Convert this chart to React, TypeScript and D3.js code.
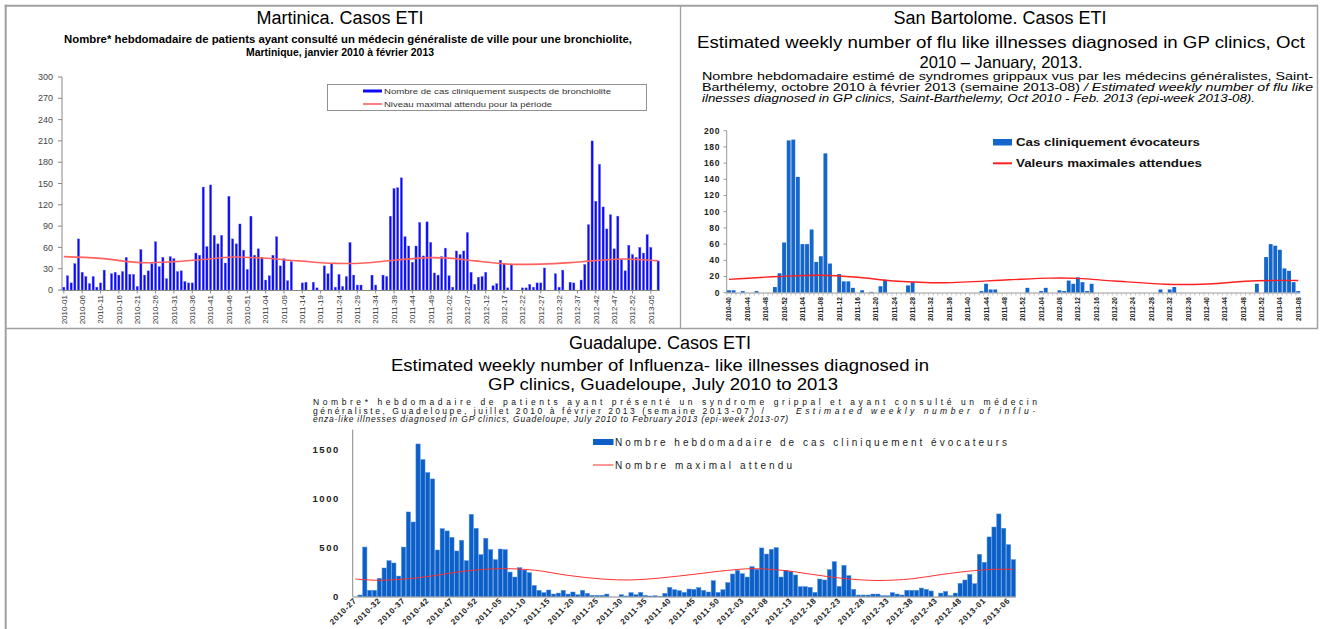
import React from "react";
import * as d3 from "d3";

const FONT = "'Liberation Sans', Arial, Helvetica, sans-serif";

function weekSeq(year: number, week: number, count: number): string[] {
  const out: string[] = [];
  let y = year;
  let w = week;
  for (let k = 0; k < count; k++) {
    out.push(`${y}-${String(w).padStart(2, "0")}`);
    w++;
    if (w > 52) {
      w = 1;
      y++;
    }
  }
  return out;
}

// ---------------- Martinique ----------------
const martWeeks = weekSeq(2010, 1, 163);
const martCases = [
  4, 20, 10, 37, 72, 25, 19, 9, 19, 4, 10, 28,
  0, 23, 25, 21, 26, 46, 22, 22, 5, 57, 21, 27,
  37, 68, 33, 46, 16, 47, 44, 26, 27, 12, 10, 10,
  52, 49, 145, 61, 148, 77, 65, 77, 38, 132, 72, 65,
  93, 56, 29, 104, 49, 58, 46, 14, 20, 49, 75, 34,
  44, 13, 40, 0, 0, 10, 11, 0, 11, 3, 0, 34,
  23, 37, 4, 22, 5, 19, 67, 21, 7, 7, 0, 0,
  21, 7, 0, 21, 19, 104, 143, 144, 158, 75, 62, 39,
  62, 95, 48, 96, 67, 24, 21, 47, 59, 20, 4, 55,
  50, 55, 81, 25, 8, 18, 19, 25, 0, 6, 9, 42,
  37, 3, 36, 0, 0, 3, 3, 8, 4, 10, 10, 31,
  0, 0, 23, 4, 28, 0, 11, 10, 0, 14, 36, 92,
  210, 125, 177, 117, 86, 106, 58, 104, 43, 27, 63, 50,
  46, 60, 52, 78, 60, 0, 41,
];
const martMaxWeeks = [
  "2010-01", "2010-11", "2010-22", "2010-31", "2010-39", "2010-47", "2011-03",
  "2011-13", "2011-23", "2011-31", "2011-39", "2011-49", "2012-03", "2012-09",
  "2012-18", "2012-27", "2012-35", "2012-41", "2012-49", "2013-03", "2013-07",
];
const martMax = [
  47, 44.5, 38.5, 40, 43, 46.5, 45, 41, 37.5, 38, 42, 45.6, 44.5, 41, 36.5,
  36.5, 38.5, 41, 43.7, 42.5, 41,
];
const martTicks = [
  "2010-01", "2010-06", "2010-11", "2010-16", "2010-21", "2010-26", "2010-31",
  "2010-36", "2010-41", "2010-46", "2010-51", "2011-04", "2011-09", "2011-14",
  "2011-19", "2011-24", "2011-29", "2011-34", "2011-39", "2011-44", "2011-49",
  "2012-02", "2012-07", "2012-12", "2012-17", "2012-22", "2012-27", "2012-32",
  "2012-37", "2012-42", "2012-47", "2012-52", "2013-05",
];
const martYTicks = [0, 30, 60, 90, 120, 150, 180, 210, 240, 270, 300];

// ---------------- Saint-Barthélemy ----------------
const sbWeeks = weekSeq(2010, 40, 125);
const sbCases = [
  3, 3, 0, 2, 0, 0, 2, 0, 0, 0,
  7, 24, 62, 188, 189, 143, 60, 60, 78, 38,
  45, 172, 36, 0, 23, 14, 14, 6, 0, 3,
  0, 1, 0, 8, 16, 0, 0, 0, 0, 9,
  13, 0, 0, 0, 0, 0, 0, 0, 0, 0,
  0, 0, 0, 0, 0, 2, 11, 4, 4, 0,
  0, 0, 0, 0, 0, 6, 0, 0, 2, 6,
  0, 0, 3, 2, 15, 11, 19, 13, 2, 11,
  0, 0, 0, 0, 0, 0, 0, 0, 0, 0,
  0, 0, 0, 0, 4, 0, 4, 7, 0, 0,
  0, 0, 0, 0, 0, 0, 0, 0, 0, 0,
  0, 0, 0, 0, 0, 11, 0, 44, 60, 58,
  53, 30, 27, 13, 2,
];
const sbMaxWeeks = [
  "2010-40", "2010-51", "2011-08", "2011-16", "2011-24", "2011-35", "2011-49",
  "2012-06", "2012-12", "2012-20", "2012-31", "2012-39", "2012-51", "2013-08",
];
const sbMax = [16.5, 20, 21.5, 19, 14.5, 12.3, 16, 18, 17.7, 14.4, 10.5, 10.5, 14.8, 15];
const sbTicks = [
  "2010-40", "2010-44", "2010-48", "2010-52", "2011-04", "2011-08", "2011-12",
  "2011-16", "2011-20", "2011-24", "2011-28", "2011-32", "2011-36", "2011-40",
  "2011-44", "2011-48", "2011-52", "2012-04", "2012-08", "2012-12", "2012-16",
  "2012-20", "2012-24", "2012-28", "2012-32", "2012-36", "2012-40", "2012-44",
  "2012-48", "2012-52", "2013-04", "2013-08",
];
const sbYTicks = [0, 20, 40, 60, 80, 100, 120, 140, 160, 180, 200];

// ---------------- Guadeloupe ----------------
const gpWeeks = weekSeq(2010, 27, 137);
const gpCases = [
  0, 17, 505, 65, 65, 187, 292, 366, 343, 210, 505, 862, 760, 1554, 1395, 1263,
  1198, 475, 692, 669, 604, 465, 574, 366, 838, 696, 428, 594, 479, 377, 485,
  479, 251, 200, 295, 271, 244, 115, 65, 41, 68, 27, 37, 65, 27, 48, 20, 65, 34,
  14, 14, 14, 27, 0, 0, 20, 7, 41, 20, 44, 14, 7, 10, 3, 34, 95, 71, 61,
  44, 78, 75, 92, 65, 48, 163, 44, 71, 143, 231, 268, 234, 200, 305, 278, 496,
  434, 482, 499, 200, 268, 258, 221, 102, 102, 95, 44, 180, 170, 275, 356, 105,
  319, 214, 75, 17, 17, 17, 27, 27, 10, 10, 41, 27, 17, 65, 65, 65, 88, 75, 58,
  0, 37, 54, 10, 37, 136, 170, 227, 132, 431, 350, 608, 709, 842, 696, 529, 377,
];
const gpMaxWeeks = [
  "2010-27", "2010-32", "2010-38", "2010-43", "2010-50", "2011-05", "2011-12",
  "2011-19", "2011-26", "2011-32", "2011-38", "2011-45", "2011-52", "2012-05",
  "2012-12", "2012-17", "2012-24", "2012-31", "2012-38", "2012-44", "2012-51",
  "2013-03", "2013-07",
];
const gpMax = [
  180, 167, 183, 212, 262, 285, 270, 217, 180, 170, 190, 228, 268, 285, 265, 230,
  185, 165, 182, 225, 266, 278, 278,
];
const gpTicks = [
  "2010-27", "2010-32", "2010-37", "2010-42", "2010-47", "2010-52", "2011-05",
  "2011-10", "2011-15", "2011-20", "2011-25", "2011-30", "2011-35", "2011-40",
  "2011-45", "2011-50", "2012-03", "2012-08", "2012-13", "2012-18", "2012-23",
  "2012-28", "2012-33", "2012-38", "2012-43", "2012-48", "2013-01", "2013-06",
];
const gpYTicks = [0, 500, 1000, 1500];

export default function App() {
  // Martinique scales
  const mX = d3.scaleBand<string>().domain(martWeeks).range([62, 660]).paddingInner(0.4).paddingOuter(0.2);
  const mY = d3.scaleLinear().domain([0, 300]).range([290, 77]);
  const mBw = mX.bandwidth();
  const mLine = d3
    .line<[string, number]>()
    .x((d) => (mX(d[0]) as number) + mBw / 2)
    .y((d) => mY(d[1]))
    .curve(d3.curveCatmullRom)(martMaxWeeks.map((w, i) => [w, martMax[i]] as [string, number]));

  // SB scales
  const sX = d3.scaleBand<string>().domain(sbWeeks).range([726.7, 1300.5]).paddingInner(0.16).paddingOuter(0.08);
  const sY = d3.scaleLinear().domain([0, 200]).range([292.7, 130.7]);
  const sBw = sX.bandwidth();
  const sLine = d3
    .line<[string, number]>()
    .x((d) => (sX(d[0]) as number) + sBw / 2)
    .y((d) => sY(d[1]))
    .curve(d3.curveCatmullRom)(sbMaxWeeks.map((w, i) => [w, sbMax[i]] as [string, number]));

  // Guadeloupe scales
  const gX = d3.scaleBand<string>().domain(gpWeeks).range([352.7, 1015.8]).paddingInner(0.12).paddingOuter(0.06);
  const gY = d3.scaleLinear().domain([0, 1700]).range([596.7, 429.6]);
  const gBw = gX.bandwidth();
  const gLine = d3
    .line<[string, number]>()
    .x((d) => (gX(d[0]) as number) + gBw / 2)
    .y((d) => gY(d[1]))
    .curve(d3.curveCatmullRom)(gpMaxWeeks.map((w, i) => [w, gpMax[i]] as [string, number]));

  const frame = "#a0a0a0";

  return (
    <svg
      width={1320}
      height={629}
      viewBox="0 0 1320 629"
      style={{ position: "absolute", left: 0, top: 0, background: "#fff" }}
      fontFamily={FONT}
    >
      <rect x={0} y={0} width={1320} height={629} fill="#fff" />
      {/* frame */}
      <line x1={4.7} y1={5.7} x2={1318} y2={5.7} stroke={frame} strokeWidth={2} />
      <line x1={5.7} y1={4.7} x2={5.7} y2={629} stroke={frame} strokeWidth={2} />
      <line x1={1317.5} y1={4.7} x2={1317.5} y2={329} stroke={frame} strokeWidth={1.5} />
      <line x1={680.5} y1={5} x2={680.5} y2={329} stroke={frame} strokeWidth={1.3} />
      <line x1={5} y1={328.5} x2={1318} y2={328.5} stroke={frame} strokeWidth={1.3} />

      {/* ================= Martinique ================= */}
      <text x={340} y={24} textAnchor="middle" fontSize={18}>Martinica. Casos ETI</text>
      <text x={348} y={43} textAnchor="middle" fontSize={10} fontWeight="bold" textLength={568} lengthAdjust="spacingAndGlyphs">
        Nombre* hebdomadaire de patients ayant consulté un médecin généraliste de ville pour une bronchiolite,
      </text>
      <text x={340} y={56} textAnchor="middle" fontSize={10} fontWeight="bold" textLength={188} lengthAdjust="spacingAndGlyphs">
        Martinique, janvier 2010 à février 2013
      </text>

      {/* y axis */}
      <line x1={62} y1={mY(300)} x2={62} y2={mY(0)} stroke="#888" strokeWidth={1} />
      {martYTicks.map((t) => (
        <g key={"my" + t}>
          <line x1={58} x2={62} y1={mY(t)} y2={mY(t)} stroke="#888" />
          <text x={53} y={mY(t)} dy="0.35em" textAnchor="end" fontSize={9} fill="#444">{t}</text>
        </g>
      ))}
      {/* bars */}
      {martCases.map((v, i) =>
        v > 0 ? (
          <rect
            key={"mb" + i}
            x={mX(martWeeks[i])}
            y={mY(v)}
            width={mBw}
            height={mY(0) - mY(v)}
            fill="#0a0af5"
            stroke="#6a6aff"
            strokeWidth={0.4}
          />
        ) : null
      )}
      <path d={mLine || ""} fill="none" stroke="#ff6060" strokeWidth={1.6} />
      {/* x axis */}
      <line x1={62} y1={290.5} x2={660} y2={290.5} stroke="#888" strokeWidth={1} />
      {martTicks.map((t) => {
        const cx = (mX(t) as number) + mBw / 2;
        return (
          <g key={"mt" + t}>
            <line x1={cx} x2={cx} y1={290.5} y2={293.5} stroke="#888" />
            <text transform={`translate(${cx + 2.8},295) rotate(-90)`} textAnchor="end" fontSize={8} fill="#333">
              {t}
            </text>
          </g>
        );
      })}
      {/* legend */}
      <rect x={327.5} y={84.5} width={319} height={26} fill="#fff" stroke="#777" strokeWidth={0.8} />
      <line x1={363} x2={382} y1={91} y2={91} stroke="#0a0af5" strokeWidth={3} />
      <text x={384} y={94} fontSize={8} fill="#333" textLength={227} lengthAdjust="spacingAndGlyphs">
        Nombre de cas cliniquement suspects de bronchiolite
      </text>
      <line x1={363} x2={382} y1={104} y2={104} stroke="#ff6060" strokeWidth={1.6} />
      <text x={384} y={107} fontSize={8} fill="#333" textLength={168} lengthAdjust="spacingAndGlyphs">
        Niveau maximal attendu pour la période
      </text>

      {/* ================= Saint-Barthélemy ================= */}
      <text x={1000} y={24} textAnchor="middle" fontSize={18}>San Bartolome. Casos ETI</text>
      <text x={697} y={48} fontSize={16.5} textLength={608} lengthAdjust="spacingAndGlyphs">
        Estimated weekly number of flu like illnesses diagnosed in GP clinics, Oct
      </text>
      <text x={1001} y={68} textAnchor="middle" fontSize={16.5}>2010 – January, 2013.</text>
      <text x={702} y={80} fontSize={10.5} textLength={611} lengthAdjust="spacingAndGlyphs">
        Nombre hebdomadaire estimé de syndromes grippaux vus par les médecins généralistes, Saint-
      </text>
      <text x={702} y={91} fontSize={10.5} textLength={378} lengthAdjust="spacingAndGlyphs">
        Barthélemy, octobre 2010 à février 2013 (semaine 2013-08)
      </text>
      <text x={1084} y={91} fontSize={10.5} fontStyle="italic" textLength={229} lengthAdjust="spacingAndGlyphs">
        / Estimated weekly number of flu like
      </text>
      <text x={702} y={102} fontSize={10.5} fontStyle="italic" textLength={553} lengthAdjust="spacingAndGlyphs">
        ilnesses diagnosed in GP clinics, Saint-Barthelemy, Oct 2010 - Feb. 2013 (epi-week 2013-08).
      </text>

      {/* y axis */}
      <line x1={726.7} y1={sY(200)} x2={726.7} y2={sY(0)} stroke="#999" strokeWidth={1} />
      {sbYTicks.map((t) => (
        <g key={"sy" + t}>
          <line x1={723.5} x2={726.7} y1={sY(t)} y2={sY(t)} stroke="#999" />
          <text x={720} y={sY(t)} dy="0.35em" textAnchor="end" fontSize={8.5} fontWeight="bold" fill="#222" letterSpacing={0.6}>
            {t}
          </text>
        </g>
      ))}
      {sbCases.map((v, i) =>
        v > 0 ? (
          <rect
            key={"sb" + i}
            x={sX(sbWeeks[i])}
            y={sY(v)}
            width={sBw}
            height={sY(0) - sY(v)}
            fill="#1466cc"
          />
        ) : null
      )}
      <path d={sLine || ""} fill="none" stroke="#ff2020" strokeWidth={1.4} />
      <line x1={726.7} y1={293} x2={1300.5} y2={293} stroke="#999" strokeWidth={1} />
      {sbWeeks.map((w) => {
        const x0 = sX(w) as number;
        return <line key={"st" + w} x1={x0 - 0.35} x2={x0 - 0.35} y1={293} y2={295.5} stroke="#aaa" strokeWidth={0.7} />;
      })}
      {sbTicks.map((t) => {
        const cx = (sX(t) as number) + sBw / 2;
        return (
          <text
            key={"sl" + t}
            transform={`translate(${cx + 2.5},297) rotate(-90)`}
            textAnchor="end"
            fontSize={7}
            fontWeight="bold"
            fill="#222"
            textLength={24}
            lengthAdjust="spacingAndGlyphs"
          >
            {t}
          </text>
        );
      })}
      {/* legend */}
      <rect x={993} y={139} width={19} height={6.5} fill="#1466cc" />
      <text x={1016} y={146} fontSize={10} fontWeight="bold" fill="#111" textLength={184} lengthAdjust="spacingAndGlyphs">
        Cas cliniquement évocateurs
      </text>
      <line x1={993} x2={1012} y1={163.3} y2={163.3} stroke="#ff2020" strokeWidth={2} />
      <text x={1016} y={167} fontSize={10} fontWeight="bold" fill="#111" textLength={186} lengthAdjust="spacingAndGlyphs">
        Valeurs maximales attendues
      </text>

      {/* ================= Guadeloupe ================= */}
      <text x={660} y={349} textAnchor="middle" fontSize={18}>Guadalupe. Casos ETI</text>
      <text x={660} y={371} textAnchor="middle" fontSize={16.5} textLength={538} lengthAdjust="spacingAndGlyphs">
        Estimated weekly number of Influenza- like illnesses diagnosed in
      </text>
      <text x={663} y={390} textAnchor="middle" fontSize={16.5} textLength={350} lengthAdjust="spacingAndGlyphs">
        GP clinics, Guadeloupe, July 2010 to 2013
      </text>
      <text x={313} y={405} fontSize={8.5} fill="#111" textLength={724} lengthAdjust="spacing">
        Nombre* hebdomadaire de patients ayant présenté un syndrome grippal et ayant consulté un médecin
      </text>
      <text x={313} y={413.5} fontSize={8.5} fill="#111" textLength={451} lengthAdjust="spacing">
        généraliste, Guadeloupe, juillet 2010 à février 2013 (semaine 2013-07) /
      </text>
      <text x={796} y={413.5} fontSize={8.5} fill="#111" fontStyle="italic" textLength={239} lengthAdjust="spacing">
        Estimated weekly number of influ-
      </text>
      <text x={313} y={422} fontSize={8.5} fill="#111" fontStyle="italic" textLength={475} lengthAdjust="spacing">
        enza-like illnesses diagnosed in GP clinics, Guadeloupe, July 2010  to February 2013 (epi-week 2013-07)
      </text>

      <line x1={352.7} y1={gY(1700)} x2={352.7} y2={gY(0)} stroke="#888" strokeWidth={1} />
      {gpYTicks.map((t) => (
        <text
          key={"gy" + t}
          x={340}
          y={gY(t)}
          dy="0.35em"
          textAnchor="end"
          fontSize={9.5}
          fontWeight="bold"
          fill="#222"
          letterSpacing={1.6}
        >
          {t}
        </text>
      ))}
      {gpCases.map((v, i) =>
        v > 0 ? (
          <rect
            key={"gb" + i}
            x={gX(gpWeeks[i])}
            y={gY(v)}
            width={gBw}
            height={gY(0) - gY(v)}
            fill="#0b5fc6"
            stroke="#4d8fe0"
            strokeWidth={0.5}
          />
        ) : null
      )}
      <path d={gLine || ""} fill="none" stroke="#ff3030" strokeWidth={1} />
      <line x1={352.7} y1={597} x2={1015.8} y2={597} stroke="#888" strokeWidth={1} />
      {gpTicks.map((t) => {
        const cx = (gX(t) as number) + gBw / 2;
        return (
          <text
            key={"gl" + t}
            transform={`translate(${cx + 2},601) rotate(-45)`}
            textAnchor="end"
            fontSize={8}
            fontWeight="bold"
            fill="#222"
            letterSpacing={0.7}
          >
            {t}
          </text>
        );
      })}
      {/* legend */}
      <rect x={593} y={439} width={20.5} height={6} fill="#0b5fc6" />
      <text x={615} y={446} fontSize={10} fill="#222" textLength={392} lengthAdjust="spacing">
        Nombre hebdomadaire de cas cliniquement évocateurs
      </text>
      <line x1={593} x2={613.5} y1={465} y2={465} stroke="#ff3030" strokeWidth={1} />
      <text x={615} y={469} fontSize={10} fill="#222" textLength={177} lengthAdjust="spacing">
        Nombre maximal attendu
      </text>
    </svg>
  );
}
